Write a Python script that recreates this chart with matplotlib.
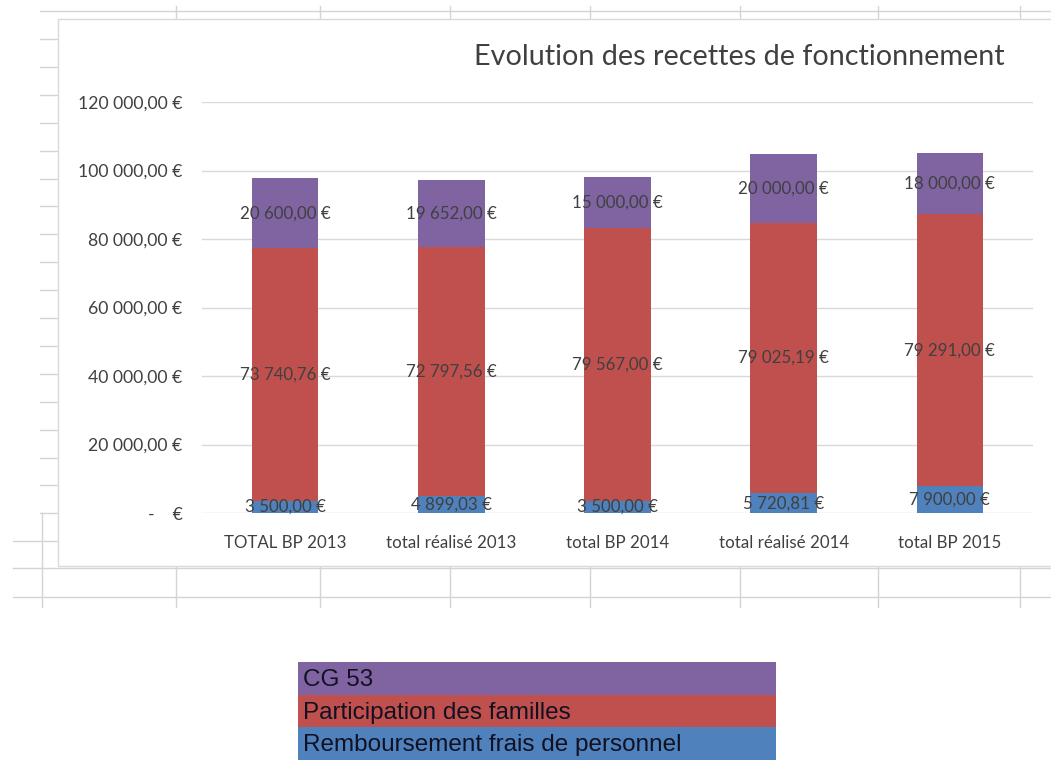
import matplotlib
matplotlib.use("Agg")
import matplotlib.pyplot as plt
from matplotlib.lines import Line2D
from matplotlib.patches import Rectangle
import numpy as np

# ---- data ----
categories = ["TOTAL BP 2013", "total réalisé 2013", "total BP 2014",
              "total réalisé 2014", "total BP 2015"]
remboursement = [3500.00, 4899.03, 3500.00, 5720.81, 7900.00]
participation = [73740.76, 72797.56, 79567.00, 79025.19, 79291.00]
cg53 = [20600.00, 19652.00, 15000.00, 20000.00, 18000.00]
series_names = ["Remboursement frais de personnel", "Participation des familles", "CG 53"]
y_ticks = [0, 20000, 40000, 60000, 80000, 100000, 120000]

# ---- style ----
COL_BLUE = "#4F81BD"
COL_RED = "#C0504D"
COL_PURPLE = "#8064A2"
TXT = "#404040"
GRID = "#d9d9d9"
SHEET = "#d4d4d4"
FONT = "Lato"

W, H = 1051, 760
fig = plt.figure(figsize=(W / 100, H / 100), dpi=100)
fig.patch.set_facecolor("white")


def fx(x):
    return x / W


def fy(y):
    return 1 - y / H


def sheet_line(x0, y0, x1, y1, color=SHEET, lw=1.0, z=0):
    fig.add_artist(Line2D([fx(x0), fx(x1)], [fy(y0), fy(y1)],
                          transform=fig.transFigure, color=color, lw=lw, zorder=z))


# spreadsheet cell grid behind the chart object
sheet_line(40, 11, W, 11)
for yy in np.arange(39, 520, 27.9):
    sheet_line(40, yy, 58, yy)
sheet_line(13, 541, 58, 541)
sheet_line(13, 568, W, 568)
sheet_line(13, 597, W, 597)
for xx in [176, 320, 450, 590, 740, 878, 1020]:
    sheet_line(xx, 6, xx, 19)
    sheet_line(xx, 566, xx, 607)
sheet_line(42, 513, 42, 607)

# chart object frame
fig.add_artist(Rectangle((fx(58), fy(566)), fx(W + 5) - fx(58), fy(19) - fy(566),
                         transform=fig.transFigure, facecolor="white",
                         edgecolor=GRID, lw=1.0, zorder=1))

# plot area
ax_left, ax_right, ax_top, ax_bottom = 202, 1033, 102, 513
ax = fig.add_axes([fx(ax_left), fy(ax_bottom), fx(ax_right) - fx(ax_left),
                   fy(ax_top) - fy(ax_bottom)])
ax.set_zorder(2)
ax.patch.set_alpha(0)

x = np.arange(len(categories))
bw = 0.4
b1 = np.array(remboursement)
b2 = b1 + np.array(participation)
ax.bar(x, remboursement, width=bw, color=COL_BLUE, zorder=3)
ax.bar(x, participation, width=bw, bottom=b1, color=COL_RED, zorder=3)
ax.bar(x, cg53, width=bw, bottom=b2, color=COL_PURPLE, zorder=3)


def euro(v):
    s = f"{v:,.2f}".replace(",", " ").replace(".", ",")
    return s + " €"


for i in range(len(categories)):
    for bottom, val in [(0, remboursement[i]), (b1[i], participation[i]), (b2[i], cg53[i])]:
        ax.text(x[i], bottom + val / 2, euro(val), ha="center", va="center",
                fontsize=12.2, color=TXT, family=FONT, zorder=5)

ax.set_xlim(-0.5, len(categories) - 0.5)
ax.set_ylim(0, 120000)
ax.set_yticks(y_ticks)
ax.set_yticklabels(["-    €" if t == 0 else euro(t) for t in y_ticks])
ax.yaxis.grid(True, color=GRID, lw=1.0, zorder=0)
ax.set_axisbelow(True)
ax.set_xticks(x)
ax.set_xticklabels(categories)
ax.tick_params(axis="y", length=0, pad=14, labelsize=12.7, labelcolor=TXT)
ax.tick_params(axis="x", length=0, pad=16, labelsize=12.2, labelcolor=TXT)
for lab in ax.get_xticklabels() + ax.get_yticklabels():
    lab.set_family(FONT)
for sp in ax.spines.values():
    sp.set_visible(False)

fig.text(fx(1005), fy(57), "Evolution des recettes de fonctionnement",
         ha="right", va="center", fontsize=20.7, color="#404040", family=FONT, zorder=5)

# legend drawn as coloured spreadsheet cells
cells = [("CG 53", COL_PURPLE), ("Participation des familles", COL_RED),
         ("Remboursement frais de personnel", COL_BLUE)]
row_tops = [662, 695, 727]
row_h = 33
for (label, col), top in zip(cells, row_tops):
    fig.add_artist(Rectangle((fx(298), fy(top + row_h)), fx(776) - fx(298),
                             fy(top) - fy(top + row_h), transform=fig.transFigure,
                             facecolor=col, edgecolor="none", zorder=1))
    fig.text(fx(303), fy(top + row_h / 2 + 1), label, ha="left", va="center",
             fontsize=17.5, color="#111122", family="Liberation Sans", zorder=2)

fig.savefig("out.png", dpi=100)
